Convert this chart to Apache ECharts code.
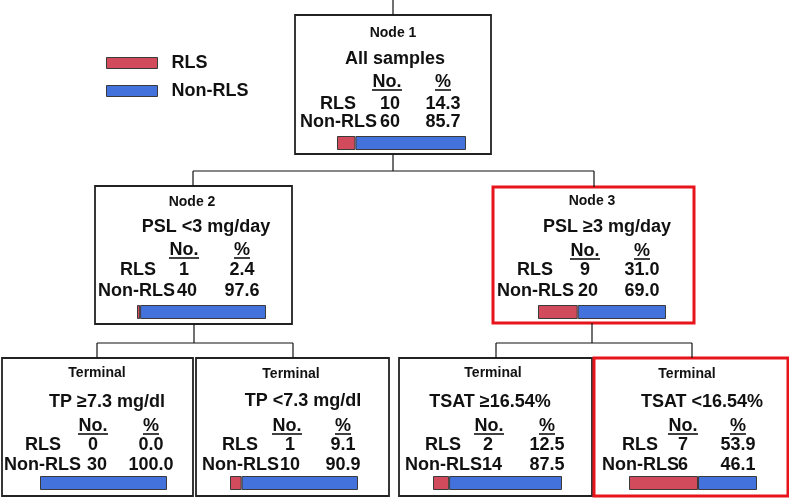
<!DOCTYPE html>
<html><head><meta charset="utf-8">
<script src="https://cdn.jsdelivr.net/npm/echarts@6/dist/echarts.min.js"></script>
<style>html,body{margin:0;padding:0;background:#fff}#c{width:789px;height:498px}</style>
</head><body><div id="c"></div>
<script>
// ---- data ----
var nodeTitles = ['Node 1','Node 2','Node 3','Terminal','Terminal','Terminal','Terminal'];
var conditions = ['All samples','PSL <3 mg/day','PSL \u22653 mg/day','TP \u22657.3 mg/dl','TP <7.3 mg/dl','TSAT \u226516.54%','TSAT <16.54%'];
var rlsCount = [10,1,9,0,1,2,7];
var nonCount = [60,40,20,30,10,14,6];
var rlsPct = [14.3,2.4,31.0,0.0,9.1,12.5,53.9];
var nonPct = [85.7,97.6,69.0,100.0,90.9,87.5,46.1];
var groupNames = ['RLS','Non-RLS'];

// ---- layout ----
var L = [
 {box:[295,15,196,139],red:0,tX:393,cX:395,noX:387,pX:443,rX:338,nL:300,rnX:390,nnX:390,bar:[337,466],y:[33,59,82,104,122,143]},
 {box:[95,186,197,138],red:0,tX:192,cX:206,noX:184,pX:242,rX:138,nL:98,rnX:184,nnX:187,bar:[137,266],y:[202,227,250,270,291,312]},
 {box:[493,187,201,136],red:1,tX:592,cX:607,noX:585,pX:642,rX:535,nL:497,rnX:585,nnX:588,bar:[538,666],y:[201,227,251,270,291,312]},
 {box:[2,358,191,138],red:0,tX:97,cX:107,noX:93,pX:151,rX:43,nL:4,rnX:93,nnX:97,bar:[40,167],y:[373,402,426,445,465,483]},
 {box:[196,358,193,138],red:0,tX:291,cX:303,noX:287,pX:343,rX:240,nL:202,rnX:290,nnX:290,bar:[230,358],y:[374,401,426,445,465,483]},
 {box:[399,358,193,138],red:0,tX:493,cX:490,noX:489,pX:547,rX:443,nL:405,rnX:488,nnX:492,bar:[433,562],y:[373,402,426,445,465,483]},
 {box:[594,358,194,138],red:1,tX:687,cX:702,noX:683,pX:738,rX:640,nL:602,rnX:683,nnX:683,bar:[629,757],y:[374,402,426,445,465,483]}
];
var RED='#d24b5c', BLUE='#4472dc', EDGE='#3a3a3a';
var FF='"Liberation Sans", Arial, sans-serif';

var graphics=[];
function line(x1,y1,x2,y2,w){graphics.push({type:'line',shape:{x1:x1,y1:y1,x2:x2,y2:y2},style:{stroke:'#111',lineWidth:w||1.2},z:1});}
function txt(s,x,y,size,align){graphics.push({type:'text',x:x,y:y,style:{text:s,font:'bold '+size+'px '+FF,fill:'#111',align:align||'center',textAlign:align||'center',verticalAlign:'middle',textVerticalAlign:'middle'},z:5});}

// connectors
line(393,0,393,15);
line(393,154,393,171); line(193,171,594,171); line(193,171,193,186); line(594,171,594,187);
line(194,324,194,343); line(97,343,293,343); line(97,343,97,358); line(293,343,293,358);
line(592,323,592,343); line(496,343,692,343); line(496,343,496,358); line(692,343,692,358);

var grids=[], xAxes=[], yAxes=[], series=[];
L.forEach(function(n,i){
  graphics.push({type:'rect',shape:{x:n.box[0],y:n.box[1],width:n.box[2],height:n.box[3]},
    style:{fill:'#fff',stroke:n.red?'#e8141c':'#222',lineWidth:n.red?3:1.8},z:0});
  var y=n.y;
  txt(nodeTitles[i],n.tX,y[0],14);
  txt(conditions[i],n.cX,y[1],18);
  txt('No.',n.noX,y[2],18);
  txt('%',n.pX,y[2],18);
  line(n.noX-15,y[2]+8,n.noX+15,y[2]+8,1.6);
  line(n.pX-8,y[2]+8,n.pX+8,y[2]+8,1.6);
  txt(groupNames[0],n.rX,y[3],18);
  txt(String(rlsCount[i]),n.rnX,y[3],18);
  txt(rlsPct[i].toFixed(1),n.pX,y[3],18);
  txt(groupNames[1],n.nL,y[4],18,'left');
  txt(String(nonCount[i]),n.nnX,y[4],18);
  txt(nonPct[i].toFixed(1),n.pX,y[4],18);
  grids.push({left:n.bar[0],top:y[5]-7,width:n.bar[1]-n.bar[0],height:14,containLabel:false});
  xAxes.push({type:'value',gridIndex:i,min:0,max:100,show:false});
  yAxes.push({type:'category',gridIndex:i,data:[''],show:false});
  var vals=[rlsPct[i],nonPct[i]], cols=[RED,BLUE];
  for(var k=0;k<2;k++){
    series.push({type:'bar',name:groupNames[k],stack:'s'+i,xAxisIndex:i,yAxisIndex:i,barWidth:14,
      data:[vals[k]>0?vals[k]:null],silent:true,
      itemStyle:{color:cols[k],borderColor:EDGE,borderWidth:1},z:3});
  }
});

var chart=echarts.init(document.getElementById('c'),null,{renderer:'canvas'});
chart.setOption({
  animation:false,
  backgroundColor:'#fff',
  legend:{data:groupNames,orient:'vertical',left:101,top:49,itemWidth:51,itemHeight:11,itemGap:10,icon:'rect',
    selectedMode:false,
    itemStyle:{borderColor:EDGE,borderWidth:1},
    textStyle:{fontFamily:FF,fontWeight:'bold',fontSize:18,color:'#111',padding:[0,0,0,9]}},
  grid:grids, xAxis:xAxes, yAxis:yAxes, series:series,
  graphic:graphics
});
</script></body></html>
